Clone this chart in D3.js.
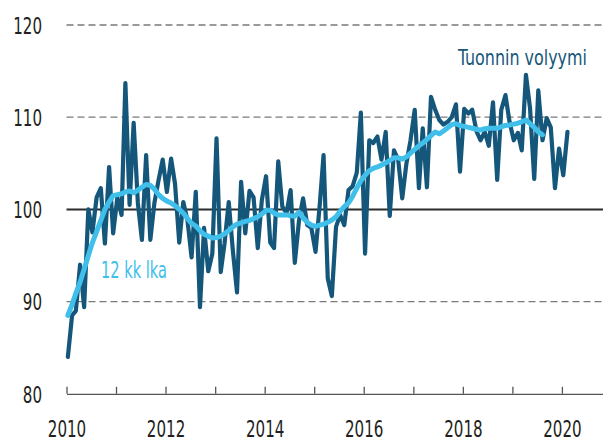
<!DOCTYPE html>
<html><head><meta charset="utf-8">
<script src="https://cdn.jsdelivr.net/npm/d3@7"></script>
<style>
html,body{margin:0;padding:0;background:#fff;}
svg{display:block;}
text{font-family:"DejaVu Sans Condensed","Liberation Sans Narrow",sans-serif;}
</style></head>
<body>
<svg id="chart" width="603" height="442"></svg>
<script>
// ---- data ----
const startYear = 2010;
// Monthly import volume index, Jan 2010 .. Feb 2020
const volume = [
 84.0,88.5,89.0,94.0,89.4,100.0,97.5,101.3,102.3,96.3,104.6,97.4,
 101.3,99.4,113.7,100.5,109.4,100.7,96.7,105.9,96.7,100.7,103.2,105.4,
 101.9,105.5,102.8,96.4,100.8,98.8,94.8,101.9,89.4,98.0,93.3,95.2,
 107.7,93.2,96.3,100.8,95.6,91.0,103.0,97.4,102.0,101.3,95.8,101.0,
 103.6,96.4,95.8,105.2,100.3,99.6,102.1,94.2,98.8,101.2,98.3,98.0,
 95.4,100.5,105.9,92.5,90.6,98.1,99.4,98.3,102.1,102.5,104.0,110.5,
 95.2,107.5,107.2,107.9,105.4,108.4,99.3,106.4,105.4,101.2,105.0,107.5,
 110.8,102.3,108.8,102.4,112.2,110.8,109.7,109.2,109.5,110.0,111.4,104.1,
 110.9,110.4,110.8,108.5,107.5,108.4,106.9,111.6,103.2,110.8,112.4,109.5,
 107.5,108.3,106.4,114.6,111.0,103.3,112.9,107.5,109.9,108.9,102.3,106.6,
 103.7,108.4
];
// 12-month moving average, Jan 2010 .. Aug 2019
const movingAvg = [
 88.5,89.7,90.9,92.1,93.5,95.0,96.4,97.6,98.8,100.0,100.8,101.5,
 101.6,101.7,101.9,102.0,101.8,102.1,102.4,102.7,102.6,102.2,101.6,101.2,
 100.9,100.7,100.4,100.0,99.6,99.0,98.5,98.2,97.7,97.3,97.1,96.9,
 96.95,97.1,97.35,97.7,98.1,98.4,98.55,98.7,98.8,99.0,99.2,99.5,
 99.9,99.9,99.6,99.4,99.4,99.4,99.3,99.25,99.7,99.1,98.6,98.3,
 98.15,98.3,98.4,98.6,98.85,99.2,99.8,100.3,100.7,101.4,102.3,103.1,
 103.7,104.2,104.45,104.6,104.8,105.05,105.3,105.6,105.6,105.45,105.7,106.1,
 106.5,106.9,107.2,107.6,108.0,108.4,108.2,108.5,108.85,109.2,109.3,109.1,
 109.0,108.9,108.8,108.7,108.6,108.75,108.8,108.8,108.8,108.95,109.1,109.15,
 109.25,109.35,109.5,109.7,109.3,108.9,108.4,108.1
];
const yTicks = [80, 90, 100, 110, 120];
const yDashed = [90, 110, 120];
const yBase = [100];
const xTickYears = [2010,2011,2012,2013,2014,2015,2016,2017,2018,2019,2020];
const xLabelYears = [2010,2012,2014,2016,2018,2020];
const labelVolume = "Tuonnin volyymi";
const labelAvg = "12 kk lka";

// ---- layout ----
const svg = d3.select("#chart");
const mLeft = 66.5, mRight = 603, mTop = 25, mBottom = 393.8;
const x = d3.scaleTime()
  .domain([new Date(2010,0,1), new Date(2020,9,30)])
  .range([mLeft, mRight]);
const y = d3.scaleLinear().domain([80,120]).range([mBottom, mTop]);
const dateOf = i => new Date(startYear, i, 11);

const darkBlue = "#15577a", lightBlue = "#3fbfea", textCol = "#231f20";
const digitW = 9.6;

// grid lines
svg.append("g").selectAll("line").data(yDashed).join("line")
  .attr("x1", mLeft).attr("x2", mRight)
  .attr("y1", d => y(d)).attr("y2", d => y(d))
  .attr("stroke", "#7a7a7a").attr("stroke-width", 1.3)
  .attr("stroke-dasharray", "7,4");
svg.append("g").selectAll("line").data(yBase).join("line")
  .attr("x1", mLeft).attr("x2", mRight)
  .attr("y1", d => y(d)).attr("y2", d => y(d))
  .attr("stroke", "#2b2b2b").attr("stroke-width", 2);

// x axis
const xAxis = d3.axisBottom(x)
  .tickValues(xTickYears.map(yr => new Date(yr,0,1)))
  .tickSizeInner(-7).tickSizeOuter(0)
  .tickFormat(d => xLabelYears.includes(d.getFullYear()) ? d.getFullYear() : "");
const gx = svg.append("g").attr("transform", `translate(0,${mBottom})`).call(xAxis);
gx.select(".domain").attr("stroke", "#555").attr("stroke-width", 1.3);
gx.selectAll(".tick line").attr("stroke", "#555").attr("stroke-width", 1.3);
gx.selectAll(".tick text")
  .attr("y", 43.5).attr("dy", 0)
  .attr("fill", textCol).style("font-size", "23px")
  .style("font-family", '"DejaVu Sans Condensed",sans-serif')
  .each(function(){ const t = this.textContent; if (t) d3.select(this).attr("textLength", t.length*digitW).attr("lengthAdjust","spacingAndGlyphs"); });

// y axis labels
const yAxis = d3.axisLeft(y).tickValues(yTicks).tickSize(0).tickPadding(0);
const gy = svg.append("g").attr("transform", `translate(42,0)`).call(yAxis);
gy.select(".domain").remove();
gy.selectAll(".tick text")
  .attr("fill", textCol).attr("dy", "0.36em").style("font-size", "23px")
  .style("font-family", '"DejaVu Sans Condensed",sans-serif')
  .each(function(){ const t = this.textContent; d3.select(this).attr("textLength", t.length*digitW).attr("lengthAdjust","spacingAndGlyphs"); });

// lines
const line = d3.line().x((d,i) => x(dateOf(i))).y(d => y(d)).curve(d3.curveLinear);
svg.append("path").datum(volume)
  .attr("d", line).attr("fill", "none")
  .attr("stroke", darkBlue).attr("stroke-width", 4.2)
  .attr("stroke-linejoin", "round").attr("stroke-linecap", "round");
svg.append("path").datum(movingAvg)
  .attr("d", line).attr("fill", "none")
  .attr("stroke", lightBlue).attr("stroke-width", 5)
  .attr("stroke-linejoin", "round").attr("stroke-linecap", "round");

// labels (horizontally condensed to match the reference's narrow face)
function condensedLabel(txt, x0, y0, width, size, color) {
  const t = svg.append("text").text(txt)
    .attr("x", 0).attr("y", 0)
    .attr("fill", color).style("font-size", size + "px");
  const natural = t.node().getComputedTextLength();
  t.attr("transform", `translate(${x0},${y0}) scale(${width / natural},1)`);
}
condensedLabel(labelVolume, 458, 65, 129, 22, darkBlue);
condensedLabel(labelAvg, 101, 278, 66, 23, lightBlue);
</script>
</body></html>
